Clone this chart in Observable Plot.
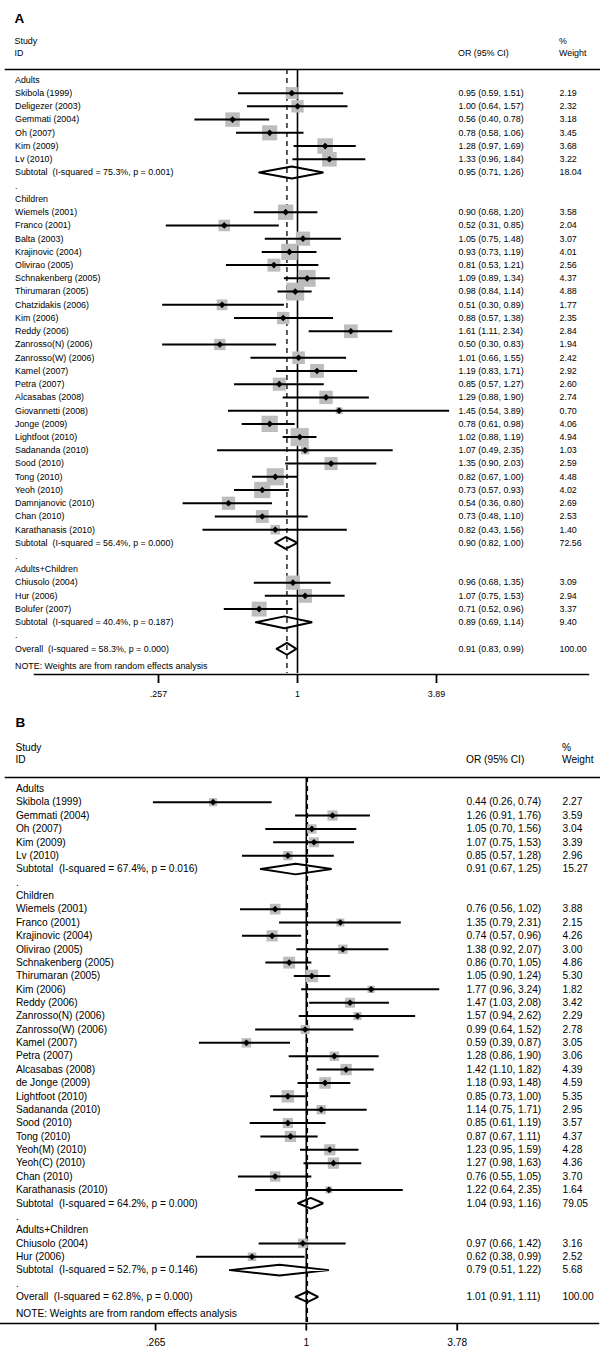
<!DOCTYPE html>
<html><head><meta charset="utf-8">
<script src="https://cdn.jsdelivr.net/npm/d3@7"></script>
<script src="https://cdn.jsdelivr.net/npm/@observablehq/plot@0.6"></script>
<style>
html,body{margin:0;padding:0;background:#fff;}
#root{width:600px;}
#root svg{display:block;}
.hdr{position:relative;width:600px;font-family:"Liberation Sans",Arial,sans-serif;color:#000;}
.hdr span{position:absolute;white-space:pre;}
</style></head><body><div id="root"></div>
<script>
// ---------- Panel A data ----------
const A_groups = ["Adults", "Children", "Adults+Children"];
const A_groupSize = [6, 25, 3];
const A_studies = ["Skibola (1999)","Deligezer (2003)","Gemmati (2004)","Oh (2007)","Kim (2009)","Lv (2010)",
  "Wiemels (2001)","Franco (2001)","Balta (2003)","Krajinovic (2004)","Olivirao (2005)","Schnakenberg (2005)","Thirumaran (2005)","Chatzidakis (2006)","Kim (2006)","Reddy (2006)","Zanrosso(N) (2006)","Zanrosso(W) (2006)","Kamel (2007)","Petra (2007)","Alcasabas (2008)","Giovannetti (2008)","Jonge (2009)","Lightfoot (2010)","Sadananda (2010)","Sood (2010)","Tong (2010)","Yeoh (2010)","Damnjanovic (2010)","Chan (2010)","Karathanasis (2010)",
  "Chiusolo (2004)","Hur (2006)","Bolufer (2007)"];
const A_or = [0.95,1.00,0.56,0.78,1.28,1.33, 0.90,0.52,1.05,0.93,0.81,1.09,0.98,0.51,0.88,1.61,0.50,1.01,1.19,0.85,1.29,1.45,0.78,1.02,1.07,1.35,0.82,0.73,0.54,0.73,0.82, 0.96,1.07,0.71];
const A_lo = [0.59,0.64,0.40,0.58,0.97,0.96, 0.68,0.31,0.75,0.73,0.53,0.89,0.84,0.30,0.57,1.11,0.30,0.66,0.83,0.57,0.88,0.54,0.61,0.88,0.49,0.90,0.67,0.57,0.36,0.48,0.43, 0.68,0.75,0.52];
const A_hi = [1.51,1.57,0.78,1.06,1.69,1.84, 1.20,0.85,1.48,1.19,1.21,1.34,1.14,0.89,1.38,2.34,0.83,1.55,1.71,1.27,1.90,3.89,0.98,1.19,2.35,2.03,1.00,0.93,0.80,1.10,1.56, 1.35,1.53,0.96];
const A_w  = [2.19,2.32,3.18,3.45,3.68,3.22, 3.58,2.04,3.07,4.01,2.56,4.37,4.88,1.77,2.35,2.84,1.94,2.42,2.92,2.60,2.74,0.70,4.06,4.94,1.03,2.59,4.48,4.02,2.69,2.53,1.40, 3.09,2.94,3.37];
const A_subHet = ["I-squared = 75.3%, p = 0.001","I-squared = 56.4%, p = 0.000","I-squared = 40.4%, p = 0.187"];
const A_subOr = [0.95, 0.90, 0.89];
const A_subLo = [0.71, 0.82, 0.69];
const A_subHi = [1.26, 1.00, 1.14];
const A_subW  = [18.04, 72.56, 9.40];
const A_allHet = "I-squared = 58.3%, p = 0.000";
const A_all = [0.91, 0.83, 0.99, 100.00];
const A_ticks = [0.257, 1, 3.89];
const A_tickLabels = [".257", "1", "3.89"];

// ---------- Panel B data ----------
const B_groups = ["Adults", "Children", "Adults+Children"];
const B_groupSize = [5, 22, 2];
const B_studies = ["Skibola (1999)","Gemmati (2004)","Oh (2007)","Kim (2009)","Lv (2010)",
  "Wiemels (2001)","Franco (2001)","Krajinovic (2004)","Olivirao (2005)","Schnakenberg (2005)","Thirumaran (2005)","Kim (2006)","Reddy (2006)","Zanrosso(N) (2006)","Zanrosso(W) (2006)","Kamel (2007)","Petra (2007)","Alcasabas (2008)","de Jonge (2009)","Lightfoot (2010)","Sadananda (2010)","Sood (2010)","Tong (2010)","Yeoh(M) (2010)","Yeoh(C) (2010)","Chan (2010)","Karathanasis (2010)",
  "Chiusolo (2004)","Hur (2006)"];
const B_or = [0.44,1.26,1.05,1.07,0.85, 0.76,1.35,0.74,1.38,0.86,1.05,1.77,1.47,1.57,0.99,0.59,1.28,1.42,1.18,0.85,1.14,0.85,0.87,1.23,1.27,0.76,1.22, 0.97,0.62];
const B_lo = [0.26,0.91,0.70,0.75,0.57, 0.56,0.79,0.57,0.92,0.70,0.90,0.96,1.03,0.94,0.64,0.39,0.86,1.10,0.93,0.73,0.75,0.61,0.67,0.95,0.98,0.55,0.64, 0.66,0.38];
const B_hi = [0.74,1.76,1.56,1.53,1.28, 1.02,2.31,0.96,2.07,1.05,1.24,3.24,2.08,2.62,1.52,0.87,1.90,1.82,1.48,1.00,1.71,1.19,1.11,1.59,1.63,1.05,2.35, 1.42,0.99];
const B_w  = [2.27,3.59,3.04,3.39,2.96, 3.88,2.15,4.26,3.00,4.86,5.30,1.82,3.42,2.29,2.78,3.05,3.06,4.39,4.59,5.35,2.95,3.57,4.37,4.28,4.36,3.70,1.64, 3.16,2.52];
const B_subHet = ["I-squared = 67.4%, p = 0.016","I-squared = 64.2%, p = 0.000","I-squared = 52.7%, p = 0.146"];
const B_subOr = [0.91, 1.04, 0.79];
const B_subLo = [0.67, 0.93, 0.51];
const B_subHi = [1.25, 1.16, 1.22];
const B_subW  = [15.27, 79.05, 5.68];
const B_allHet = "I-squared = 62.8%, p = 0.000";
const B_all = [1.01, 0.91, 1.11, 100.00];
const B_ticks = [0.265, 1, 3.78];
const B_tickLabels = [".265", "1", "3.78"];

const NOTE = "NOTE: Weights are from random effects analysis";
const FONT = '"Liberation Sans", Arial, sans-serif';
const f2 = d3.format(".2f");

function buildRows(d) {
  const rows = []; let r = 0, k = 0;
  d.groups.forEach((g, gi) => {
    rows.push({row: r++, kind: "head", label: g});
    for (let j = 0; j < d.groupSize[gi]; j++, k++) {
      rows.push({row: r++, kind: "study", label: d.studies[k], or: d.or[k], lo: d.lo[k], hi: d.hi[k], w: d.w[k]});
    }
    rows.push({row: r++, kind: "sub", label: "Subtotal  (" + d.subHet[gi] + ")", or: d.subOr[gi], lo: d.subLo[gi], hi: d.subHi[gi], w: d.subW[gi]});
    rows.push({row: r++, kind: "gap", label: "."});
  });
  rows.push({row: r++, kind: "overall", label: "Overall  (" + d.allHet + ")", or: d.all[0], lo: d.all[1], hi: d.all[2], w: d.all[3]});
  return rows;
}

function header(letter, c) {
  const div = document.createElement("div");
  div.className = "hdr";
  div.style.height = c.headH + "px";
  const items = [
    [letter, c.lxAbs, c.hLetter, 13.5, true],
    ["Study", c.lxAbs, c.hStudy, c.fs],
    ["ID", c.lxAbs, c.hID, c.fs],
    ["OR (95% CI)", c.orAbs, c.hID, c.fs],
    ["%", c.wAbs, c.hStudy, c.fs],
    ["Weight", c.wAbs, c.hID, c.fs]
  ];
  for (const [t, x, yc, fs, bold] of items) {
    const s = document.createElement("span");
    const lh = fs * 1.15;
    s.textContent = t;
    s.style.left = x + "px";
    s.style.top = (yc - lh / 2) + "px";
    s.style.fontSize = fs + "px";
    s.style.lineHeight = lh + "px";
    if (bold) s.style.fontWeight = "bold";
    div.appendChild(s);
  }
  return div;
}

function panel(letter, d, c) {
  const rows = buildRows(d);
  const studies = rows.filter(r => r.kind === "study");
  const valued = rows.filter(r => r.or != null);
  const pooled = rows.filter(r => r.kind === "sub" || r.kind === "overall");
  const overallRow = rows[rows.length - 1].row;
  const diamonds = pooled.flatMap((p, i) => [
    {id: i, x: p.lo, y: p.row}, {id: i, x: p.or, y: p.row - c.dh},
    {id: i, x: p.hi, y: p.row}, {id: i, x: p.or, y: p.row + c.dh},
    {id: i, x: p.lo, y: p.row}
  ]);
  const textOpt = {frameAnchor: "left", textAnchor: "start", fontSize: c.fs, fill: "#000"};
  const main = Plot.plot({
    width: 600, height: c.mainH,
    marginTop: 1, marginBottom: 0, marginLeft: c.ml, marginRight: 0,
    style: {fontFamily: FONT, fontSize: c.fs + "px", background: "white", overflow: "visible"},
    x: {type: "log", domain: [1 / Math.E, Math.E], range: [c.cx - c.k, c.cx + c.k], axis: null},
    y: {domain: [0, overallRow], range: [c.y0, c.y0 + c.step * overallRow], axis: null},
    r: {type: "sqrt", domain: [0, 1], range: [0, c.box]},
    marks: [
      Plot.frame({anchor: "top", stroke: "#000", strokeWidth: 1.6}),
      Plot.ruleX([1], {stroke: "#000", strokeWidth: 1.6}),
      Plot.ruleX([d.all[0]], {stroke: "#000", strokeWidth: 1.3, strokeDasharray: "5,4"}),
      Plot.dot(studies, {x: "or", y: "row", r: "w", symbol: "square", fill: "#bdbdbd", stroke: null}),
      Plot.ruleY(studies, {y: "row", x1: "lo", x2: "hi", stroke: "#000", strokeWidth: 2}),
      Plot.dot(studies, {x: "or", y: "row", r: 3, symbol: "diamond2", fill: "#000", stroke: null}),
      Plot.line(diamonds, {x: "x", y: "y", z: "id", stroke: "#000", strokeWidth: 2, strokeLinejoin: "miter", curve: "linear"}),
      Plot.text(rows, {...textOpt, y: "row", text: "label", dx: c.lx}),
      Plot.text(valued, {...textOpt, y: "row", text: r => `${f2(r.or)} (${f2(r.lo)}, ${f2(r.hi)})`, dx: c.orx}),
      Plot.text(valued, {...textOpt, y: "row", text: r => f2(r.w), dx: c.wx}),
      Plot.text([NOTE], {text: t => t, frameAnchor: "bottom-left", textAnchor: "start", dx: c.lx, dy: c.noteDy, fontSize: c.fs, fill: "#000"})
    ]
  });
  const axisRange = c.axisRange || [c.cx + c.k * Math.log(d.ticks[0]), c.cx + c.k * Math.log(d.ticks[2])];
  const axis = Plot.plot({
    width: 600, height: c.axisH,
    marginTop: 1, marginBottom: c.axisH - 1, marginLeft: c.axisML, marginRight: c.axisMR,
    style: {fontFamily: FONT, fontSize: c.fs + "px", background: "white", overflow: "visible"},
    x: {type: "log", domain: [d.ticks[0], d.ticks[2]], range: axisRange, axis: null},
    marks: [
      Plot.frame({anchor: "bottom", stroke: "#000", strokeWidth: 1.5}),
      Plot.axisX(d.ticks, {anchor: "bottom", tickSize: c.tickSize, strokeWidth: 1.8, stroke: "#000", tickFormat: () => ""}),
      Plot.text(d.ticks, {x: t => t, text: (t, i) => d.tickLabels[i], frameAnchor: "bottom", lineAnchor: "top",
        dy: c.tickSize + c.tickPad, fontSize: c.fs, fill: "#000"})
    ]
  });
  const root = document.getElementById("root");
  root.appendChild(header(letter, c));
  root.appendChild(main);
  root.appendChild(axis);
}

panel("A", {groups: A_groups, groupSize: A_groupSize, studies: A_studies, or: A_or, lo: A_lo, hi: A_hi, w: A_w,
  subHet: A_subHet, subOr: A_subOr, subLo: A_subLo, subHi: A_subHi, subW: A_subW, allHet: A_allHet, all: A_all,
  ticks: A_ticks, tickLabels: A_tickLabels},
  {fs: 8.9, ml: 5, lx: 9.5, orx: 453, wx: 554, lxAbs: 14.5, orAbs: 458, wAbs: 559,
   headH: 68, hLetter: 18.7, hStudy: 41, hID: 53,
   cx: 297, k: 112, y0: 11.4, step: 13.23, box: 4.57, dh: 0.45, mainH: 605, noteDy: -5,
   axisH: 32, axisML: 34, axisMR: 12, axisRange: [158, 436], tickSize: 9, tickPad: 7});

panel("B", {groups: B_groups, groupSize: B_groupSize, studies: B_studies, or: B_or, lo: B_lo, hi: B_hi, w: B_w,
  subHet: B_subHet, subOr: B_subOr, subLo: B_subLo, subHi: B_subHi, subW: B_subW, allHet: B_allHet, all: B_all,
  ticks: B_ticks, tickLabels: B_tickLabels},
  {fs: 10.2, ml: 5, lx: 10.4, orx: 461, wx: 557, lxAbs: 15.4, orAbs: 466, wAbs: 562,
   headH: 71, hLetter: 18, hStudy: 42.7, hID: 55,
   cx: 305.8, k: 113.5, y0: 12.3, step: 13.37, box: 3.05, dh: 0.4, mainH: 546, noteDy: -6,
   axisH: 28, axisML: 0, axisMR: 2, tickSize: 7.5, tickPad: 7.5});
</script>
</body></html>
